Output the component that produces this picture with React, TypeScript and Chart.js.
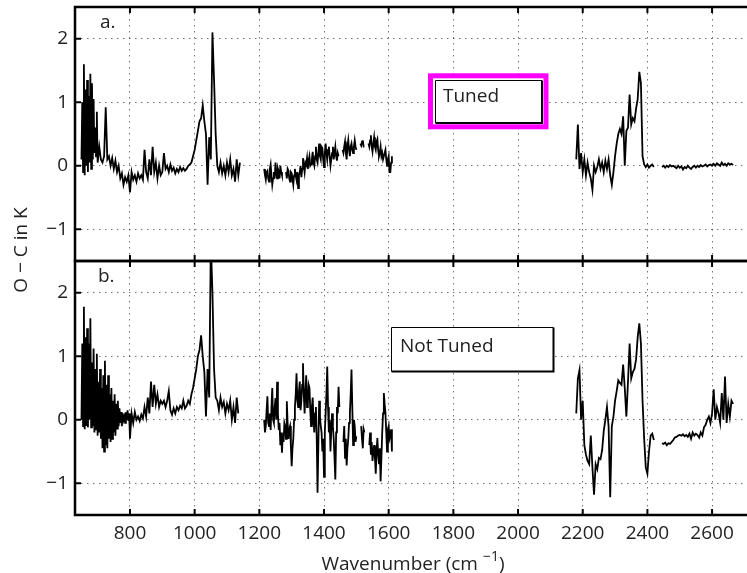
import { useEffect, useRef } from "react";
import { Chart, registerables } from "chart.js";

Chart.register(...registerables);

// ---------- data ----------
// each panel is made of pieces: start wavenumber, sampling step (cm^-1), values
const tunedStarts = [650, 705, 1215, 2180, 2445];
const tunedSteps = [2.5, 5, 2.5, 5, 5];
const notTunedStarts = [650, 805, 1215, 2180, 2445];
const notTunedSteps = [2.5, 5, 2.5, 5, 5];

// panel a. (Tuned)
const tunedP1 = [
  0.1, 1.0, -0.1, 1.6, -0.15, 1.2, 0.0, 1.35, -0.1, 1.1,
  0.05, 1.45, -0.05, 1.3, 0.1, 1.05, 0.2, 0.6, 0.15, 0.85,
  0.05,
];
const tunedP2 = [
  0.3, 0.1, 0.05, 0.15, 0.92, 0.1, 0.15, 0.0, 0.12,
  -0.05, 0.08, -0.1, 0.0, -0.2, -0.12, -0.3, -0.18, -0.25, -0.15,
  -0.42, -0.1, -0.22, -0.15, -0.25, -0.12, -0.2, -0.15, -0.22, 0.25,
  -0.1, -0.2, 0.1, -0.15, 0.3, -0.1, 0.05, -0.2, 0.0, -0.15,
  -0.1, 0.2, -0.05, 0.0, -0.1, 0.02, -0.08, -0.03, -0.12, -0.05,
  -0.1, -0.02, -0.08, -0.04, -0.08, -0.05, 0.0, 0.02, 0.05, 0.15,
  0.25, 0.4, 0.55, 0.7, 0.75, 0.95, 0.7, 0.5, -0.3, 0.45,
  0.1, 2.1, 1.35, 0.5, 0.0, -0.1, 0.05, -0.12, 0.0, -0.15,
  0.05, -0.1, 0.1, -0.15, -0.05, -0.25, 0.1, -0.15, 0.05,
];
const tunedP3 = [
  -0.05, -0.15, -0.22, -0.1, -0.08, -0.2, -0.25, -0.05, 0.02, -0.15,
  -0.3, -0.2, -0.1, -0.2, 0.05, -0.1, -0.2, -0.05, -0.1, -0.2,
  0.0, -0.1, -0.15, null, null, null, null, -0.1, -0.2, -0.05,
  -0.08, -0.2, -0.25, -0.1, -0.12, -0.2, -0.3, -0.15, -0.05, -0.15,
  -0.22, -0.1, -0.35, -0.15, -0.1, 0.0, -0.18, -0.05, 0.12, 0.0,
  -0.1, 0.05, 0.02, 0.12, -0.05, 0.08, 0.15, 0.0, 0.02, 0.1,
  0.22, 0.05, 0.0, 0.15, 0.3, 0.1, 0.05, 0.2, 0.35, 0.15,
  0.1, 0.3, 0.28, 0.1, -0.02, 0.2, 0.35, 0.2, 0.1, 0.25,
  0.3, 0.15, 0.0, 0.1, 0.2, 0.3, 0.1, 0.2, 0.3, 0.15,
  0.08, 0.2, 0.15, null, null, null, null, 0.25, 0.2, 0.3,
  0.38, 0.2, 0.1, 0.3, 0.4, 0.25, 0.15, 0.3, 0.35, 0.25,
  0.2, 0.3, 0.4, 0.3, 0.25, null, null, null, null, 0.35,
  0.32, 0.38, 0.4, 0.3, 0.3, null, null, null, null, 0.35,
  0.3, 0.4, 0.48, 0.3, 0.22, 0.35, 0.45, 0.3, 0.25, 0.38,
  0.42, 0.25, 0.15, 0.2, 0.3, 0.15, 0.2, 0.1, 0.1, 0.2,
  0.25, 0.1, 0.0, 0.1, 0.15, -0.1, -0.1, 0.05, 0.15,
];
const tunedP4 = [
  0.1, 0.65, -0.05, 0.2, -0.1, 0.1, -0.15, 0.05, -0.1, -0.2,
  -0.38, 0.0, -0.1, -0.02, 0.1, -0.05, 0.05, -0.1, 0.08, -0.05,
  0.1, -0.15, -0.3, -0.1, 0.15, 0.35, 0.5, 0.58, 0.5, 0.78,
  0.0, 0.55, 0.6, 1.12, 0.65, 0.75, 0.7, 0.9, 1.05, 1.48,
  1.3, 0.15, 0.02, -0.02, 0.02, -0.03, 0.0, 0.02, -0.02,
];
const tunedP5 = [
  -0.02, 0.0, -0.03, 0.0, -0.02, 0.01, -0.01, 0.0, -0.02, -0.04,
  0.0, -0.03, -0.01, -0.06, -0.02, -0.04, 0.0, -0.03, -0.05, -0.02,
  0.0, -0.03, 0.0, -0.02, 0.01, -0.01, 0.0, 0.02, -0.01, 0.01,
  0.02, 0.0, 0.03, 0.0, 0.04, 0.02, 0.0, 0.05, 0.01, 0.03,
  0.0, 0.04, 0.02, 0.03, 0.01,
];

// panel b. (Not Tuned)
const notTunedP1 = [
  0.0, 1.2, -0.1, 1.78, -0.15, 1.3, -0.1, 1.44, -0.12, 1.2,
  0.0, 1.6, -0.12, 0.9, -0.1, 1.12, -0.2, 0.8, -0.15, 1.04,
  -0.25, 0.6, -0.2, 0.8, -0.3, 0.5, -0.45, 0.7, -0.5, 0.93,
  -0.4, 0.55, -0.45, 0.7, -0.3, 0.4, -0.35, 0.5, -0.3, 0.3,
  -0.2, 0.4, -0.25, 0.25, -0.14, 0.3, -0.1, 0.18, -0.05, 0.12,
  -0.1, 0.1, 0.0, 0.05, -0.05, 0.12, 0.0, 0.15, -0.02, 0.1,
  -0.3,
];
const notTunedP2 = [
  0.1, -0.05, 0.12, 0.0, 0.05, -0.02, 0.08, 0.02, 0.2,
  0.05, 0.35, 0.1, 0.6, 0.2, 0.55, 0.25, 0.4, 0.2, 0.3,
  0.25, 0.3, 0.2, 0.3, 0.45, 0.15, 0.08, 0.18, 0.1, 0.2,
  0.15, 0.22, 0.18, 0.3, 0.18, 0.22, 0.3, 0.25, 0.4, 0.5,
  0.65, 0.8, 1.0, 1.1, 1.33, 1.0, 0.75, 0.05, 0.8, 0.35,
  2.8, 2.0, 0.8, 0.35, 0.3, 0.15, 0.35, 0.2, 0.28, 0.1,
  0.25, 0.15, 0.3, 0.0, 0.2, -0.05, 0.35, 0.1,
];
const notTunedP3 = [
  0.0, -0.2, -0.1, 0.15, 0.37, -0.05, -0.1, 0.1, -0.16, 0.2,
  0.5, 0.0, -0.05, 0.2, 0.34, 0.0, 0.6, 0.1, -0.16, -0.05,
  -0.4, -0.2, -0.52, -0.25, -0.35, -0.05, -0.1, -0.3, 0.29, -0.05,
  -0.3, -0.15, -0.1, -0.4, -0.73, -0.45, -0.3, 0.0, 0.2, 0.4,
  0.73, 0.3, 0.2, 0.45, 0.6, 0.15, 0.3, 0.55, 0.89, 0.4,
  0.1, 0.45, 0.7, 0.2, 0.25, 0.55, 0.5, 0.15, -0.1, 0.2,
  0.35, 0.0, -0.2, 0.1, 0.2, -0.3, -1.15, -0.4, 0.3, 0.05,
  -0.1, -0.2, -0.5, -0.3, -0.9, -0.2, 0.1, 0.4, 0.84, 0.2,
  -0.2, 0.0, -0.5, -0.15, 0.1, -0.1, -0.3, -0.6, -0.94, -0.2,
  0.2, 0.1, 0.52, 0.2, null, null, null, null, -0.35, -0.1,
  -0.6, -0.3, -0.72, -0.45, -0.3, -0.05, 0.1, 0.4, 0.79, 0.2,
  -0.4, 0.0, -0.1, -0.35, -0.26, null, null, null, null, null,
  -0.1, -0.3, -0.45, -0.15, -0.2, null, null, null, null, null,
  -0.4, -0.2, -0.55, -0.35, -0.65, -0.5, -0.4, -0.6, -0.85, -0.5,
  -0.29, -0.55, -0.7, -0.45, -0.97, -0.6, -0.2, 0.1, 0.42, 0.25,
  0.1, -0.2, -0.5, -0.15, -0.1, -0.3, -0.25, -0.15, -0.5,
];
const notTunedP4 = [
  0.1, 0.65, 0.78, 0.0, 0.3, -0.4, -0.55, -0.65, -0.7, -0.25,
  -0.75, -1.18, -0.7, -0.78, -0.6, -0.62, -0.48, -0.18, 0.0, 0.2,
  -0.1, -1.22, -0.1, 0.05, 0.3, 0.45, 0.62, 0.58, 0.55, 0.87,
  0.5, 0.05, 0.6, 1.2, 0.65, 0.75, 0.8, 0.95, 1.3, 1.52,
  1.2, 0.3, -0.3, -0.75, -0.85, -0.5, -0.25, -0.22, -0.32,
];
const notTunedP5 = [
  -0.37, -0.38, -0.36, -0.4, -0.37, -0.38, -0.35, -0.32, -0.28, -0.27,
  -0.25, -0.24, -0.25, -0.23, -0.26, -0.24, -0.27, -0.22, -0.3, -0.2,
  -0.25, -0.22, -0.24, -0.28, -0.2, -0.25, -0.12, -0.08, 0.0, 0.05,
  -0.05, 0.1, 0.48, 0.0, 0.2, 0.1, -0.05, 0.42, 0.0, 0.68,
  -0.05, 0.25, 0.05, 0.3, 0.25,
];

const xTicks = [800, 1000, 1200, 1400, 1600, 1800, 2000, 2200, 2400, 2600];
const yTicks = [-1, 0, 1, 2];
const yTickLabels = ["\u22121", "0", "1", "2"];
const panelLabels = ["a.", "b."];
const legendLabels = ["Tuned", "Not Tuned"];
const xTitle = "Wavenumber (cm";
const xTitleSup = "\u22121";
const yTitle = "O \u2212 C in K";

// ---------- helpers ----------
function buildPoints(starts: number[], steps: number[], pieces: (number | null)[][]) {
  const pts: { x: number; y: number | null }[] = [];
  pieces.forEach((vals, s) => {
    const start = starts[s];
    const step = steps[s];
    vals.forEach((v, i) => pts.push({ x: start + i * step, y: v }));
    const last = start + (vals.length - 1) * step;
    const next = s + 1 < starts.length ? starts[s + 1] : Infinity;
    if (next - last > 1.5 * Math.max(step, steps[s + 1] || step)) {
      pts.push({ x: last + step / 2, y: null });
    }
  });
  return pts;
}

const FONT = "'Open Sans', 'Noto Sans', sans-serif";
const TEXT = "#222";

const framePlugin = {
  id: "frame",
  beforeDatasetDraw(chart: any, args: any) {
    const ys = chart.scales[args.meta.yAxisID];
    const ca = chart.chartArea;
    const ctx = chart.ctx;
    ctx.save();
    ctx.beginPath();
    ctx.rect(ca.left, ys.top, ca.right - ca.left, ys.bottom - ys.top);
    ctx.clip();
  },
  afterDatasetDraw(chart: any) {
    chart.ctx.restore();
  },
  afterDraw(chart: any) {
    const ctx = chart.ctx;
    const ca = chart.chartArea;
    const xs = chart.scales.x;
    const panels = [chart.scales.yA, chart.scales.yB];
    ctx.save();
    // frames + inward ticks
    panels.forEach((p: any, k: number) => {
      ctx.strokeStyle = "#000";
      ctx.lineWidth = 2.5;
      ctx.beginPath();
      ctx.moveTo(ca.right + 3, p.top);
      ctx.lineTo(ca.left, p.top);
      ctx.lineTo(ca.left, p.bottom);
      ctx.lineTo(ca.right + 3, p.bottom);
      ctx.stroke();
      ctx.lineWidth = 2;
      ctx.beginPath();
      xTicks.forEach((v) => {
        const px = xs.getPixelForValue(v);
        ctx.moveTo(px, p.top);
        ctx.lineTo(px, p.top + 6);
        ctx.moveTo(px, p.bottom);
        ctx.lineTo(px, p.bottom - 6);
      });
      yTicks.forEach((v) => {
        const py = p.getPixelForValue(v);
        ctx.moveTo(ca.left, py);
        ctx.lineTo(ca.left + 6, py);
      });
      ctx.stroke();
      // panel label
      ctx.fillStyle = TEXT;
      ctx.font = `19px ${FONT}`;
      ctx.textAlign = "left";
      ctx.textBaseline = "alphabetic";
      ctx.fillText(panelLabels[k], ca.left + 25 - k * 2, p.top + 21);
    });

    // legend boxes
    ctx.font = `19px ${FONT}`;
    // Tuned (highlighted)
    ctx.fillStyle = "#fff";
    ctx.fillRect(433, 78, 111, 46);
    ctx.strokeStyle = "#ff00ff";
    ctx.lineWidth = 5;
    ctx.strokeRect(430.5, 75.8, 115.5, 51);
    ctx.strokeStyle = "#000";
    ctx.lineWidth = 1;
    ctx.beginPath();
    ctx.moveTo(435.5, 123);
    ctx.lineTo(435.5, 80.5);
    ctx.lineTo(542, 80.5);
    ctx.stroke();
    ctx.lineWidth = 2;
    ctx.beginPath();
    ctx.moveTo(542, 80.5);
    ctx.lineTo(542, 123);
    ctx.lineTo(435.5, 123);
    ctx.stroke();
    ctx.fillStyle = TEXT;
    ctx.fillText(legendLabels[0], 443, 102);

    // Not Tuned
    ctx.fillStyle = "#fff";
    ctx.fillRect(392, 328, 161, 43);
    ctx.strokeStyle = "#000";
    ctx.lineWidth = 1;
    ctx.beginPath();
    ctx.moveTo(391.5, 371.5);
    ctx.lineTo(391.5, 327.5);
    ctx.lineTo(553.5, 327.5);
    ctx.stroke();
    ctx.lineWidth = 2;
    ctx.beginPath();
    ctx.moveTo(553.5, 327.5);
    ctx.lineTo(553.5, 371.5);
    ctx.lineTo(391.5, 371.5);
    ctx.stroke();
    ctx.fillStyle = TEXT;
    ctx.fillText(legendLabels[1], 400, 352);

    // x title with superscript
    const mainFont = `19px ${FONT}`;
    const supFont = `14px ${FONT}`;
    ctx.font = mainFont;
    const w1 = ctx.measureText(xTitle + " ").width;
    const w3 = ctx.measureText(")").width;
    ctx.font = supFont;
    const w2 = ctx.measureText(xTitleSup).width;
    const total = w1 + w2 + w3;
    let xp = (ca.left + ca.right) / 2 - total / 2 + 2;
    const base = ca.bottom + 55;
    ctx.fillStyle = TEXT;
    ctx.textAlign = "left";
    ctx.font = mainFont;
    ctx.fillText(xTitle + " ", xp, base);
    xp += w1;
    ctx.font = supFont;
    ctx.fillText(xTitleSup, xp, base - 9);
    xp += w2;
    ctx.font = mainFont;
    ctx.fillText(")", xp, base);

    // y title
    ctx.save();
    ctx.translate(22, (ca.top + ca.bottom) / 2 - 11);
    ctx.rotate(-Math.PI / 2);
    ctx.textAlign = "center";
    ctx.textBaseline = "middle";
    ctx.font = mainFont;
    ctx.fillText(yTitle, 0, 0);
    ctx.restore();

    ctx.restore();
  },
};

function yScale(stackWeight: number) {
  return {
    type: "linear" as const,
    position: "left" as const,
    stack: "panels",
    stackWeight,
    min: -1.5,
    max: 2.5,
    afterBuildTicks(scale: any) {
      scale.ticks = yTicks.map((v) => ({ value: v }));
    },
    afterFit(scale: any) {
      scale.width = 75;
      scale.paddingTop = 0;
      scale.paddingBottom = 0;
    },
    grid: {
      color: "rgba(0,0,0,0.55)",
      lineWidth: 1,
      drawTicks: false,
    },
    border: { display: false, dash: [1.5, 4.5] },
    ticks: {
      padding: 7,
      color: TEXT,
      font: { family: FONT, size: 19 },
      callback: (v: any) => {
        const i = yTicks.indexOf(Number(v));
        return i >= 0 ? yTickLabels[i] : "";
      },
    },
  };
}

export default function App() {
  const ref = useRef<HTMLCanvasElement>(null);
  useEffect(() => {
    const common = {
      borderColor: "#000",
      borderWidth: 1.8,
      pointRadius: 0,
      spanGaps: false,
      tension: 0,
      borderJoinStyle: "miter" as const,
    };
    const chart = new Chart(ref.current as HTMLCanvasElement, {
      type: "line",
      data: {
        datasets: [
          {
            label: legendLabels[1],
            data: buildPoints(notTunedStarts, notTunedSteps, [
              notTunedP1, notTunedP2, notTunedP3, notTunedP4, notTunedP5,
            ]) as any,
            yAxisID: "yB",
            ...common,
          },
          {
            label: legendLabels[0],
            data: buildPoints(tunedStarts, tunedSteps, [
              tunedP1, tunedP2, tunedP3, tunedP4, tunedP5,
            ]) as any,
            yAxisID: "yA",
            ...common,
          },
        ],
      },
      options: {
        animation: false,
        responsive: false,
        layout: { padding: { top: 7, left: 0, right: 0, bottom: 0 } },
        plugins: { legend: { display: false }, tooltip: { enabled: false } },
        scales: {
          x: {
            type: "linear",
            min: 630,
            max: 2708,
            afterBuildTicks(scale: any) {
              scale.ticks = xTicks.map((v) => ({ value: v }));
            },
            afterFit(scale: any) {
              scale.height = 58;
              scale.paddingLeft = 0;
              scale.paddingRight = 0;
            },
            grid: { color: "rgba(0,0,0,0.55)", lineWidth: 1, drawTicks: false },
            border: { display: false, dash: [1.5, 4.5] },
            ticks: {
              padding: 7,
              color: TEXT,
              maxRotation: 0,
              autoSkip: false,
              font: { family: FONT, size: 19 },
              callback: (v: any) => String(v),
            },
          },
          yB: yScale(1) as any,
          yA: yScale(1) as any,
        },
      },
      plugins: [framePlugin],
    });
    return () => chart.destroy();
  }, []);
  return (
    <div style={{ position: "absolute", left: 0, top: 0, width: 747, height: 573 }}>
      <canvas ref={ref} width={747} height={573} style={{ display: "block" }} />
    </div>
  );
}
